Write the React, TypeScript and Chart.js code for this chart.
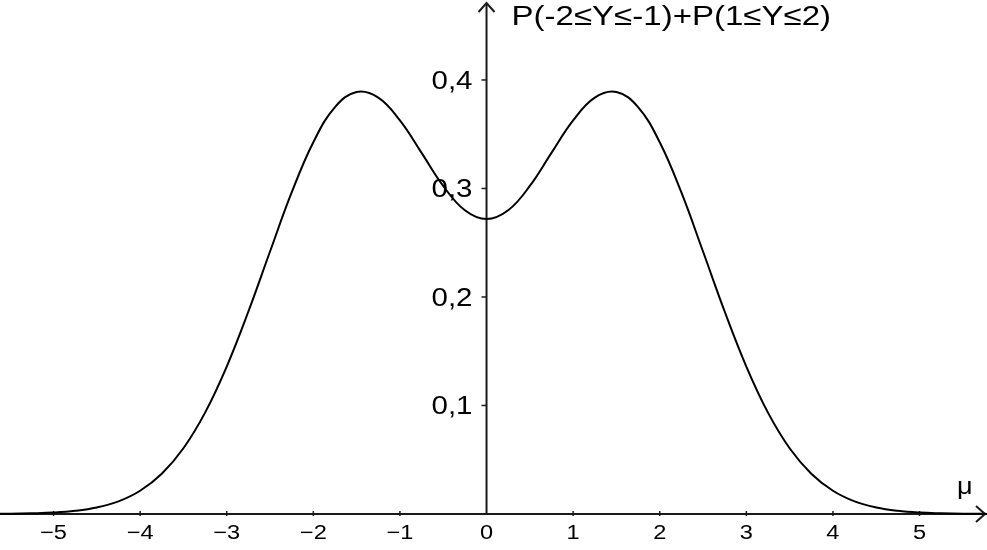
import React, { useEffect, useRef } from "react";
import { Chart, registerables } from "chart.js";

Chart.register(...registerables);

const muValues = [
  -6, -5.75, -5.5, -5.25, -5, -4.75, -4.5, -4.25, -4, -3.75, -3.5, -3.25, -3,
  -2.75, -2.5, -2.25, -2, -1.75, -1.5, -1.25, -1, -0.75, -0.5, -0.25, 0,
  0.25, 0.5, 0.75, 1, 1.25, 1.5, 1.75, 2, 2.25, 2.5, 2.75, 3, 3.25, 3.5,
  3.75, 4, 4.25, 4.5, 4.75, 5, 5.25, 5.5, 5.75, 6,
];
const probValues = [
  0.0, 0.0001, 0.0002, 0.0006, 0.0013, 0.0029, 0.006, 0.0116, 0.0214, 0.0371,
  0.0606, 0.0934, 0.1359, 0.1866, 0.2419, 0.2963, 0.3426, 0.375, 0.3889,
  0.3837, 0.3627, 0.3328, 0.3023, 0.2799, 0.2718, 0.2799, 0.3023, 0.3328,
  0.3627, 0.3837, 0.3889, 0.375, 0.3426, 0.2963, 0.2419, 0.1866, 0.1359,
  0.0934, 0.0606, 0.0371, 0.0214, 0.0116, 0.006, 0.0029, 0.0013, 0.0006,
  0.0002, 0.0001, 0.0,
];
const xTickValues = [-5, -4, -3, -2, -1, 0, 1, 2, 3, 4, 5];
const xTickLabels = ["\u22125", "\u22124", "\u22123", "\u22122", "\u22121", "0", "1", "2", "3", "4", "5"];
const yTickValues = [0.1, 0.2, 0.3, 0.4];
const yTickLabels = ["0,1", "0,2", "0,3", "0,4"];
const yAxisTitle = "P(-2\u2264Y\u2264-1)+P(1\u2264Y\u22642)";
const xAxisTitle = "\u03bc";

const X_MIN = -5.618;
const X_MAX = 5.779;
const Y_MIN = -0.0332;
const Y_MAX = 0.4737;

const FONT = '"Liberation Sans", Arial, sans-serif';
const STRETCH = 1.18;

function stretchedText(
  ctx: CanvasRenderingContext2D,
  text: string,
  x: number,
  y: number,
  align: "left" | "center" | "right",
  baseline: CanvasTextBaseline
) {
  ctx.save();
  ctx.translate(x, y);
  ctx.scale(STRETCH, 1);
  ctx.textAlign = align;
  ctx.textBaseline = baseline;
  ctx.fillText(text, 0, 0);
  ctx.restore();
}

const axesPlugin = {
  id: "geoAxes",
  beforeDatasetsDraw(chart: any) {
    const ctx: CanvasRenderingContext2D = chart.ctx;
    const xs = chart.scales.x;
    const ys = chart.scales.y;
    const x0 = xs.getPixelForValue(0);
    const y0 = ys.getPixelForValue(0);
    const left = xs.getPixelForValue(X_MIN);
    const right = xs.getPixelForValue(X_MAX);
    const top = ys.getPixelForValue(Y_MAX);
    ctx.save();
    ctx.strokeStyle = "#1a1a1a";
    ctx.fillStyle = "#000";
    ctx.lineWidth = 2;
    // x axis
    ctx.beginPath();
    ctx.moveTo(left, y0);
    ctx.lineTo(right - 2, y0);
    ctx.stroke();
    // x arrow
    ctx.beginPath();
    ctx.moveTo(right - 11, y0 - 8);
    ctx.lineTo(right - 2, y0);
    ctx.lineTo(right - 11, y0 + 8);
    ctx.stroke();
    // y axis (stops at the x axis)
    ctx.beginPath();
    ctx.moveTo(x0, y0);
    ctx.lineTo(x0, top + 3);
    ctx.stroke();
    ctx.beginPath();
    ctx.moveTo(x0 - 8, top + 12);
    ctx.lineTo(x0, top + 3);
    ctx.lineTo(x0 + 8, top + 12);
    ctx.stroke();
    // x ticks
    ctx.lineWidth = 1.5;
    xTickValues.forEach((v, i) => {
      const px = xs.getPixelForValue(v);
      if (v !== 0) {
        ctx.beginPath();
        ctx.moveTo(px, y0 - 3);
        ctx.lineTo(px, y0 + 2);
        ctx.stroke();
      }
      ctx.font = `20px ${FONT}`;
      stretchedText(ctx, xTickLabels[i], px, y0 + 25, "center", "alphabetic");
    });
    // y ticks
    yTickValues.forEach((v, i) => {
      const py = ys.getPixelForValue(v);
      ctx.beginPath();
      ctx.moveTo(x0 - 5, py);
      ctx.lineTo(x0, py);
      ctx.stroke();
      ctx.font = `25px ${FONT}`;
      stretchedText(ctx, yTickLabels[i], x0 - 14, py + 9, "right", "alphabetic");
    });
    // axis titles
    ctx.font = `28px ${FONT}`;
    stretchedText(ctx, yAxisTitle, x0 + 25, top + 25, "left", "alphabetic");
    ctx.font = `23px ${FONT}`;
    stretchedText(ctx, xAxisTitle, right - 30, y0 - 20, "left", "alphabetic");
    ctx.restore();
  },
};

export default function App() {
  const canvasRef = useRef<HTMLCanvasElement | null>(null);

  useEffect(() => {
    document.body.style.margin = "0";
    const canvas = canvasRef.current;
    if (!canvas) return;
    const chart = new Chart(canvas, {
      type: "line",
      data: {
        datasets: [
          {
            data: muValues.map((m, i) => ({ x: m, y: probValues[i] })),
            borderColor: "#000",
            borderWidth: 2,
            pointRadius: 0,
            tension: 0.4,
            fill: false,
          },
        ],
      },
      options: {
        animation: false,
        responsive: false,
        layout: { padding: 0 },
        plugins: {
          legend: { display: false },
          title: { display: false },
          tooltip: { enabled: false },
        },
        scales: {
          x: { type: "linear", min: X_MIN, max: X_MAX, display: false },
          y: { type: "linear", min: Y_MIN, max: Y_MAX, display: false },
        },
      },
      plugins: [axesPlugin],
    });
    return () => chart.destroy();
  }, []);

  return (
    <div style={{ position: "absolute", left: 0, top: 0, width: 987, height: 550, background: "#fff" }}>
      <canvas ref={canvasRef} width={987} height={550} style={{ display: "block" }} />
    </div>
  );
}
